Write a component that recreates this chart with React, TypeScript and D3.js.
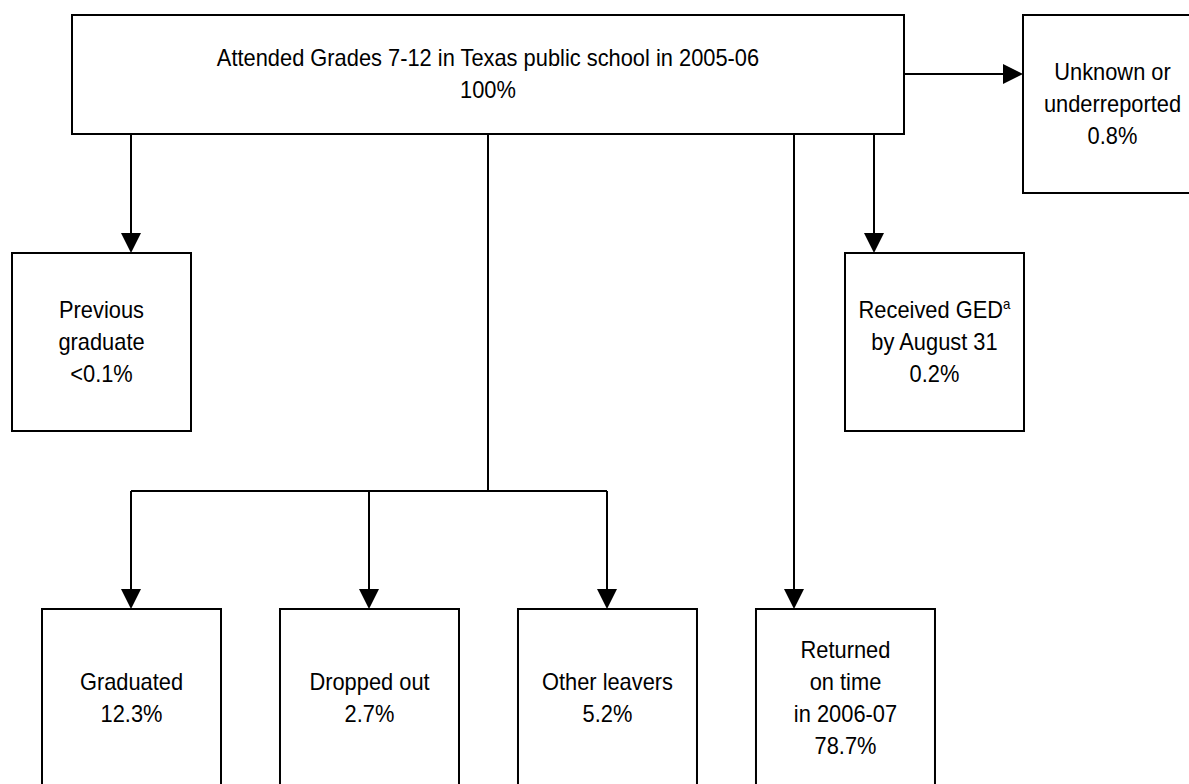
import * as d3 from 'd3'

// source node text
const sourceLines = ['Attended Grades 7-12 in Texas public school in 2005-06', '100%']

// outcome nodes
const outcomeIds = ['prev', 'ged', 'unknown', 'grad', 'drop', 'other', 'returned']
const outcomeLabels = [
  ['Previous', 'graduate'],
  ['Received GED', 'by August 31'],
  ['Unknown or', 'underreported'],
  ['Graduated'],
  ['Dropped out'],
  ['Other leavers'],
  ['Returned', 'on time', 'in 2006-07'],
]
const outcomePercents = ['<0.1%', '0.2%', '0.8%', '12.3%', '2.7%', '5.2%', '78.7%']
const footnoteMarks = ['', 'a', '', '', '', '', '']
const bottomRow = ['grad', 'drop', 'other', 'returned']

const W = 1189
const H = 784
const BOX_W = 179
const BOX_H = 178
const LINE_H = 32
const FONT = "'Liberation Sans', Arial, sans-serif"
const NARROW = 0.95

// layout, kept apart from the data
const topBox = { x: 72, y: 15, w: 832, h: 119 }
const rowY = { top: 15, mid: 253, bottom: 609 }
const bandX = d3.scaleBand<string>().domain(bottomRow).range([42, 934]).paddingInner(0.252)

const boxPos: Record<string, { x: number; y: number }> = {
  prev: { x: 12, y: rowY.mid },
  ged: { x: 845, y: rowY.mid },
  unknown: { x: 1023, y: rowY.top },
}
bottomRow.forEach((id) => {
  boxPos[id] = { x: bandX(id) ?? 0, y: rowY.bottom }
})

const branchY = 491
const bandMid = (id: string) => (bandX(id) ?? 0) + bandX.bandwidth() / 2

type Pt = [number, number]
const line = d3.line<Pt>()

// arrowed connectors
const arrows: Pt[][] = [
  [[131, topBox.y + topBox.h], [131, rowY.mid]],
  [[874, topBox.y + topBox.h], [874, rowY.mid]],
  [[topBox.x + topBox.w, 74], [boxPos.unknown.x, 74]],
  [[794, topBox.y + topBox.h], [794, rowY.bottom]],
  ...['grad', 'drop', 'other'].map((id): Pt[] => [[bandMid(id), branchY], [bandMid(id), rowY.bottom]]),
]
// plain connectors
const plain: Pt[][] = [
  [[488, topBox.y + topBox.h], [488, branchY]],
  [[bandMid('grad'), branchY], [bandMid('other'), branchY]],
]

function arrowHead(a: Pt, b: Pt) {
  const ang = Math.atan2(b[1] - a[1], b[0] - a[0])
  const len = 20
  const half = 10
  const bx = b[0] - len * Math.cos(ang)
  const by = b[1] - len * Math.sin(ang)
  const px = -Math.sin(ang) * half
  const py = Math.cos(ang) * half
  return `M${b[0]},${b[1]}L${bx + px},${by + py}L${bx - px},${by - py}Z`
}

function shorten(pts: Pt[]): Pt[] {
  const a = pts[0]
  const b = pts[pts.length - 1]
  const ang = Math.atan2(b[1] - a[1], b[0] - a[0])
  return [a, [b[0] - 12 * Math.cos(ang), b[1] - 12 * Math.sin(ang)]]
}

function BoxText({ cx, cy, lines, marks }: { cx: number; cy: number; lines: string[]; marks?: string[] }) {
  const n = lines.length
  return (
    <g>
      {lines.map((t, i) => (
        <text
          key={i}
          transform={`translate(${cx},${cy + (i - (n - 1) / 2) * LINE_H}) scale(${NARROW},1)`}
          textAnchor="middle"
          dominantBaseline="central"
          fontSize={23}
          fontFamily={FONT}
          fill="#000"
        >
          {t}
          {marks && marks[i] ? (
            <tspan fontSize={14} dy={-6}>
              {marks[i]}
            </tspan>
          ) : null}
        </text>
      ))}
    </g>
  )
}

export default function App() {
  return (
    <svg
      width={W}
      height={H}
      viewBox={`0 0 ${W} ${H}`}
      style={{ position: 'absolute', left: 0, top: 0, background: '#fff' }}
    >
      <rect x={0} y={0} width={W} height={H} fill="#fff" />

      {plain.map((p, i) => (
        <path key={'p' + i} d={line(p) ?? ''} stroke="#000" strokeWidth={2} fill="none" />
      ))}
      {arrows.map((p, i) => (
        <g key={'a' + i}>
          <path d={line(shorten(p)) ?? ''} stroke="#000" strokeWidth={2} fill="none" />
          <path d={arrowHead(p[0], p[p.length - 1])} fill="#000" />
        </g>
      ))}

      <rect
        x={topBox.x}
        y={topBox.y}
        width={topBox.w}
        height={topBox.h}
        fill="none"
        stroke="#000"
        strokeWidth={2}
      />
      <BoxText cx={topBox.x + topBox.w / 2} cy={topBox.y + topBox.h / 2} lines={sourceLines} />

      {outcomeIds.map((id, i) => {
        const p = boxPos[id]
        const lines = [...outcomeLabels[i], outcomePercents[i]]
        const marks = lines.map((_, j) => (j === 0 ? footnoteMarks[i] : ''))
        return (
          <g key={id}>
            <rect x={p.x} y={p.y} width={BOX_W} height={BOX_H} fill="none" stroke="#000" strokeWidth={2} />
            <BoxText cx={p.x + BOX_W / 2} cy={p.y + BOX_H / 2} lines={lines} marks={marks} />
          </g>
        )
      })}
    </svg>
  )
}
